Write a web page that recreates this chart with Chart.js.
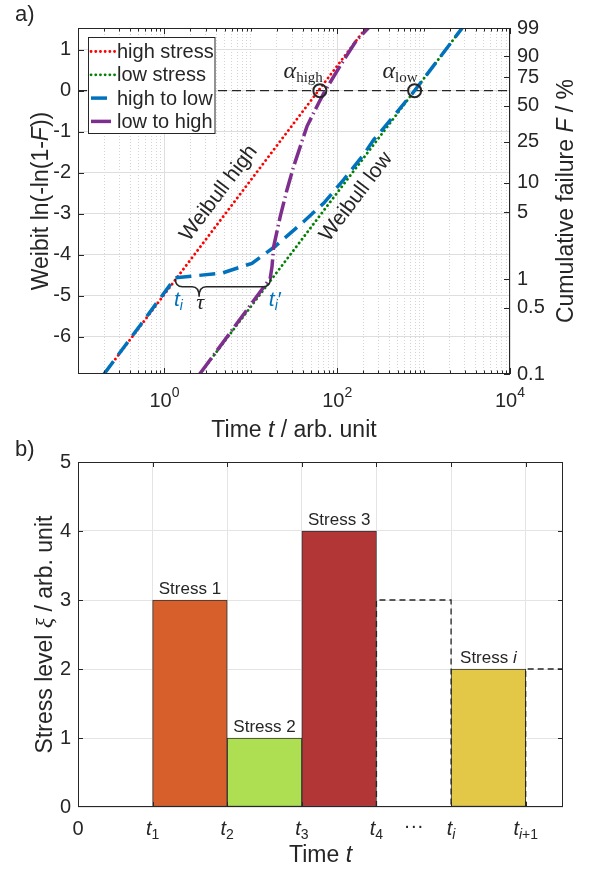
<!DOCTYPE html>
<html>
<head>
<meta charset="utf-8">
<script src="https://cdn.jsdelivr.net/npm/chart.js@4.4.0/dist/chart.umd.min.js"></script>
<style>
    html, body { margin: 0; padding: 0; background: #fff; }
    body { width: 596px; height: 869px; position: relative; overflow: hidden; }
    canvas { position: absolute; left: 0; }
    #weibull { top: 0; width: 596px; height: 445px; }
    #stress { top: 432px; width: 596px; height: 437px; }
</style>
</head>
<body>
<canvas id="weibull" width="596" height="445"></canvas>
<canvas id="stress" width="596" height="437"></canvas>
<script>
const SANS = '"Liberation Sans", Arial, sans-serif';
const SERIF = '"Liberation Serif", "Times New Roman", serif';
const INK = '#262626';

// ---- (a) Weibull plot: time t and Weibit ln(-ln(1-F)) ----
const highStressT = [0.2, 215];
const highStressW = [-6.91, 1.53];
const lowStressT = [2.56, 2800];
const lowStressW = [-6.91, 1.53];
const highToLowT = [0.2, 1.34, 2.1, 4.6, 10.3, 19, 41, 70, 119, 202, 264, 412, 787, 2800];
const highToLowW = [-6.91, -4.56, -4.52, -4.45, -4.21, -3.80, -3.19, -2.74, -2.17, -1.56, -1.20, -0.72, 0, 1.53];
const lowToHighT = [2.56, 16.8, 17.6, 18.4, 21.9, 26.2, 31.3, 44.7, 61, 72.6, 113, 169, 231];
const lowToHighW = [-6.91, -4.57, -4.29, -3.80, -3.07, -2.42, -1.85, -0.87, -0.30, 0, 0.67, 1.24, 1.53];
const alphaT = [63, 787];
const alphaW = [0, 0];
const alphaNames = ['high', 'low'];
const zeroLineT = [0.1, 10000];
const zeroLineW = [0, 0];
const seriesNames = ['high stress', 'low stress', 'high to low', 'low to high'];
const weibitTicks = [-6, -5, -4, -3, -2, -1, 0, 1];
const failureTicks = [99, 90, 75, 50, 25, 10, 5, 1, 0.5, 0.1];
const decadeTicks = [1, 100, 10000];
const decadeExp = ['0', '2', '4'];

// ---- (b) stress profile ----
const stressNames = ['Stress 1', 'Stress 2', 'Stress 3', 'Stress i'];
const stressMidT = [1.5, 2.5, 3.5, 5.5];
const stressLevel = [3, 1, 4, 2];
const stressColors = ['#D75F2B', '#AEDE52', '#B33636', '#E3C746'];
const pendingT = [4, 4, 5, 5];
const pendingLevel = [0, 3, 3, 0];
const nextT = [6, 6, 7];
const nextLevel = [0, 2, 2];
const timeTicks = [0, 1, 2, 3, 4, 5, 6];
const timeTickBase = ['0', 't', 't', 't', 't', 't', 't'];
const timeTickSub = ['', '1', '2', '3', '4', 'i', 'i+1'];
const ellipsisT = 4.5;

const weibit = F => Math.log(-Math.log(1 - F / 100));
const pts = (xs, ys) => xs.map((v, i) => ({ x: v, y: ys[i] }));
const font = (size, style = '', family = SANS) => `${style} ${size}px ${family}`.trim();
const seg = (text, f, dy = 0, color = INK) => ({ text, f, dy, color });

Chart.defaults.font.family = SANS;
Chart.defaults.color = INK;

/**
 * Draw a run of text pieces with their own fonts (italic symbols, sub/superscripts).
 */
const rich = (ctx, parts, x, y, align = 'left', angle = 0, baseline = 'alphabetic') => {
    ctx.save();
    ctx.translate(x, y);
    ctx.rotate(angle);
    ctx.textAlign = 'left';
    ctx.textBaseline = baseline;
    let w = 0;
    parts.forEach(p => { ctx.font = p.f; w += ctx.measureText(p.text).width; });
    let cx = align === 'center' ? -w / 2 : align === 'right' ? -w : 0;
    parts.forEach(p => {
        ctx.font = p.f;
        ctx.fillStyle = p.color;
        ctx.fillText(p.text, cx, p.dy);
        cx += ctx.measureText(p.text).width;
    });
    ctx.restore();
};

const drawFrame = (chart) => {
    const { ctx, chartArea: a } = chart;
    ctx.save();
    ctx.strokeStyle = INK;
    ctx.lineWidth = 1;
    ctx.setLineDash([]);
    ctx.strokeRect(Math.round(a.left) + 0.5, Math.round(a.top) + 0.5,
        Math.round(a.right - a.left) - 1, Math.round(a.bottom - a.top) - 1);
    ctx.restore();
};

/**
 * MATLAB style tick marks pointing into the axes.
 */
const drawInnerTicks = (chart, scale, values, len, sides) => {
    const { ctx, chartArea: a } = chart;
    ctx.save();
    ctx.strokeStyle = INK;
    ctx.lineWidth = 1;
    ctx.beginPath();
    values.forEach(v => {
        const p = Math.round(scale.getPixelForValue(v)) + 0.5;
        if (sides.includes('bottom')) { ctx.moveTo(p, a.bottom); ctx.lineTo(p, a.bottom - len); }
        if (sides.includes('top')) { ctx.moveTo(p, a.top); ctx.lineTo(p, a.top + len); }
        if (sides.includes('left')) { ctx.moveTo(a.left, p); ctx.lineTo(a.left + len, p); }
        if (sides.includes('right')) { ctx.moveTo(a.right, p); ctx.lineTo(a.right - len, p); }
    });
    ctx.stroke();
    ctx.restore();
};

// minor decade ticks for the log axis (2..9 of each decade plus odd decades)
const minorLogTicks = [];
[0.1, 1, 10, 100, 1000].forEach(d => {
    for (let k = 1; k <= 9; k++) {
        const v = +(d * k).toPrecision(3);
        if (!decadeTicks.includes(v)) minorLogTicks.push(v);
    }
});

/**
 * Annotations, legend, labels of the Weibull plot.
 */
const weibullDecor = {
    id: 'weibullDecor',
    afterDatasetsDraw(chart) {
        const { ctx, chartArea: a, scales: { x, y } } = chart;
        const px = t => x.getPixelForValue(t);
        const py = w => y.getPixelForValue(w);

        // rotated line labels
        const slope = (ts, ws) => Math.atan2(py(ws[1]) - py(ws[0]), px(ts[1]) - px(ts[0]));
        rich(ctx, [seg('Weibull high', font(21))], px(4.26), py(-2.5), 'center', slope(highStressT, highStressW), 'middle');
        rich(ctx, [seg('Weibull low', font(21))], px(166), py(-2.59), 'center', slope(lowStressT, lowStressW), 'middle');

        // alpha labels over the circles
        alphaT.forEach((t, i) => {
            rich(ctx, [seg('α', font(24, 'italic', SERIF)), seg(alphaNames[i], font(15, '', SERIF), 4)],
                px(t) + 3, py(alphaW[i]) - 13, 'right');
        });

        // brace between t_i and t_i'
        const bx1 = px(highToLowT[1]);
        const bx2 = px(lowToHighT[1]);
        const by0 = py(highToLowW[1]);
        const by = by0 + 9;
        const tipX = bx1 + 0.25 * (bx2 - bx1);
        ctx.save();
        ctx.strokeStyle = INK;
        ctx.lineWidth = 1.5;
        ctx.setLineDash([]);
        ctx.beginPath();
        ctx.moveTo(bx1, by0 + 1);
        ctx.quadraticCurveTo(bx1, by, bx1 + 7, by);
        ctx.lineTo(tipX - 7, by);
        ctx.quadraticCurveTo(tipX, by, tipX, by + 10);
        ctx.quadraticCurveTo(tipX, by, tipX + 7, by);
        ctx.lineTo(bx2 - 7, by);
        ctx.quadraticCurveTo(bx2, by, bx2, by0 + 1);
        ctx.stroke();
        ctx.restore();

        const blue = '#0072BD';
        rich(ctx, [seg('t', font(21, 'italic'), 0, blue), seg('i', font(14, 'italic'), 4, blue)], bx1 + 3, by0 + 28, 'center');
        rich(ctx, [seg('τ', font(22, 'italic', SERIF))], tipX + 1, by0 + 31, 'center');
        rich(ctx, [seg('t', font(21, 'italic'), 0, blue), seg('i', font(14, 'italic'), 4, blue), seg('′', font(21), 0, blue)],
            bx2 + 5, by0 + 28, 'center');

        // legend box
        const lx = a.left + 10.5;
        const ly = a.top + 9.5;
        ctx.save();
        ctx.fillStyle = '#fff';
        ctx.fillRect(lx, ly, 126.5, 96);
        ctx.strokeStyle = INK;
        ctx.lineWidth = 1;
        ctx.strokeRect(lx, ly, 126.5, 96);
        chart.data.datasets.slice(0, 4).forEach((ds, i) => {
            const yy = ly + 14 + i * 23.3;
            ctx.strokeStyle = ds.borderColor;
            ctx.lineWidth = ds.borderWidth;
            ctx.lineCap = ds.borderCapStyle || 'butt';
            ctx.setLineDash(ds.borderDash);
            ctx.beginPath();
            ctx.moveTo(lx + 2.5, yy);
            ctx.lineTo(lx + 26.5, yy);
            ctx.stroke();
            ctx.fillStyle = INK;
            ctx.font = font(20);
            ctx.textBaseline = 'middle';
            ctx.fillText(ds.label, lx + 28.5, yy + 1);
        });
        ctx.restore();
    },
    afterDraw(chart) {
        const { ctx, chartArea: a, scales: { x, xm, y, y2 } } = chart;
        drawFrame(chart);
        drawInnerTicks(chart, x, decadeTicks, 6, ['bottom', 'top']);
        drawInnerTicks(chart, xm, minorLogTicks, 3.5, ['bottom', 'top']);
        drawInnerTicks(chart, y, weibitTicks, 6, ['left']);
        drawInnerTicks(chart, y2, failureTicks.map(weibit), 6, ['right']);

        // 10^n tick labels
        decadeTicks.forEach((t, i) => {
            rich(ctx, [seg('10', font(20)), seg(decadeExp[i], font(14), -10)], x.getPixelForValue(t), 407, 'center');
        });

        const midY = (a.top + a.bottom) / 2;
        rich(ctx, [seg('Time ', font(23)), seg('t', font(23, 'italic')), seg(' / arb. unit', font(23))],
            (a.left + a.right) / 2, 437, 'center');
        rich(ctx, [seg('Weibit ln(-ln(1-', font(23)), seg('F', font(23, 'italic')), seg('))', font(23))],
            48, midY, 'center', -Math.PI / 2);
        rich(ctx, [seg('Cumulative failure ', font(23)), seg('F', font(23, 'italic')), seg(' / %', font(23))],
            573, midY, 'center', -Math.PI / 2);
        rich(ctx, [seg('a)', font(22))], 15, 21);
    }
};

new Chart(document.getElementById('weibull'), {
    type: 'line',
    data: {
        datasets: [
            { label: seriesNames[0], data: pts(highStressT, highStressW), borderColor: '#FF0000', borderWidth: 2.8, borderCapStyle: 'round', borderDash: [0.1, 4.6], clip: 0, order: 4 },
            { label: seriesNames[1], data: pts(lowStressT, lowStressW), borderColor: '#008000', borderWidth: 2.8, borderCapStyle: 'round', borderDash: [0.1, 4.6], clip: 0, order: 3 },
            { label: seriesNames[2], data: pts(highToLowT, highToLowW), borderColor: '#0072BD', borderWidth: 3.5, borderDash: [16, 8], clip: 0, order: 2 },
            { label: seriesNames[3], data: pts(lowToHighT, lowToHighW), borderColor: '#7E2F8E', borderWidth: 3.5, borderDash: [20, 4, 1.5, 4], clip: 0, order: 1 },
            {
                label: 'alpha', data: pts(alphaT, alphaW), showLine: false, pointRadius: 6.5,
                pointBorderWidth: 2, pointBorderColor: INK, pointBackgroundColor: 'rgba(0,0,0,0)', order: 0
            },
            { label: 'F = 63.2 %', data: pts(zeroLineT, zeroLineW), borderColor: INK, borderWidth: 1.3, borderDash: [9, 5], clip: 0, order: 5 },
        ],
    },
    options: {
        responsive: false,
        animation: false,
        devicePixelRatio: 1,
        layout: { padding: { top: 28, left: 0, right: 0, bottom: 0 } },
        plugins: { legend: { display: false }, tooltip: { enabled: false } },
        elements: { point: { radius: 0, hoverRadius: 0 }, line: { tension: 0, fill: false } },
        scales: {
            x: {
                type: 'logarithmic', position: 'bottom', min: 0.1, max: 10000,
                afterBuildTicks: s => { s.ticks = decadeTicks.map(v => ({ value: v })); },
                ticks: { display: false },
                grid: { color: '#dedede', lineWidth: 1, drawTicks: false },
                border: { display: false },
                afterFit: s => { s.height = 71; },
            },
            xm: {
                type: 'logarithmic', axis: 'x', position: 'bottom', min: 0.1, max: 10000,
                afterBuildTicks: s => { s.ticks = minorLogTicks.map(v => ({ value: v })); },
                ticks: { display: false },
                grid: { color: '#d4d4d4', lineWidth: 1, drawTicks: false },
                border: { display: false, dash: [1, 2] },
                afterFit: s => { s.height = 0; },
            },
            y: {
                type: 'linear', position: 'left', min: weibit(0.1), max: weibit(99),
                afterBuildTicks: s => { s.ticks = weibitTicks.map(v => ({ value: v })); },
                ticks: { font: { size: 20 }, color: INK, padding: 7, callback: v => String(v) },
                grid: { color: '#dedede', lineWidth: 1, drawTicks: false },
                border: { display: false },
                afterFit: s => { s.width = 78; },
            },
            y2: {
                type: 'linear', position: 'right', min: weibit(0.1), max: weibit(99),
                afterBuildTicks: s => { s.ticks = failureTicks.map(F => ({ value: weibit(F) })); },
                ticks: { font: { size: 20 }, color: INK, padding: 7, autoSkip: false, callback: (v, i) => String(failureTicks[i]) },
                grid: { drawOnChartArea: false, drawTicks: false },
                border: { display: false },
                afterFit: s => { s.width = 86; },
            },
        },
    },
    plugins: [weibullDecor],
});

/**
 * Bar captions, time tick labels and titles of the stress profile.
 */
const stressDecor = {
    id: 'stressDecor',
    afterDatasetsDraw(chart) {
        const { ctx } = chart;
        chart.getDatasetMeta(2).data.forEach((bar, i) => {
            const words = stressNames[i].split(' ');
            const idx = words.pop();
            const idxFont = idx === 'i' ? font(17, 'italic') : font(17);
            rich(ctx, [seg(words.join(' ') + ' ', font(17)), seg(idx, idxFont)], bar.x, bar.y - 6, 'center');
        });
    },
    afterDraw(chart) {
        const { ctx, chartArea: a, scales: { x, y } } = chart;
        drawFrame(chart);
        drawInnerTicks(chart, x, timeTicks.slice(1), 5, ['bottom', 'top']);
        drawInnerTicks(chart, y, [1, 2, 3, 4], 5, ['left', 'right']);

        timeTicks.forEach((t, i) => {
            const parts = timeTickBase[i] === 't' ? [seg('t', font(20, 'italic'))] : [seg(timeTickBase[i], font(20))];
            timeTickSub[i].split(/(\+\d+)/).filter(Boolean).forEach(s => {
                parts.push(seg(s, font(14, /^\d/.test(s) || s[0] === '+' ? '' : 'italic'), 4));
            });
            rich(ctx, parts, x.getPixelForValue(t), 403, 'center');
        });
        rich(ctx, [seg('···', font(20))], x.getPixelForValue(ellipsisT), 400, 'center');

        rich(ctx, [seg('Time ', font(23)), seg('t', font(23, 'italic'))], (a.left + a.right) / 2, 430, 'center');
        rich(ctx, [seg('Stress level ', font(23)), seg('ξ', font(24, 'italic', SERIF)), seg(' / arb. unit', font(23))],
            52, (a.top + a.bottom) / 2, 'center', -Math.PI / 2);
        rich(ctx, [seg('b)', font(22))], 15, 24);
    }
};

new Chart(document.getElementById('stress'), {
    type: 'bar',
    data: {
        datasets: [
            { type: 'line', data: pts(pendingT, pendingLevel), borderColor: INK, borderWidth: 1.3, borderDash: [6, 4], pointRadius: 0, order: 0 },
            { type: 'line', data: pts(nextT, nextLevel), borderColor: INK, borderWidth: 1.3, borderDash: [6, 4], pointRadius: 0, order: 0 },
            {
                label: 'stress level', data: pts(stressMidT, stressLevel),
                backgroundColor: stressColors, borderColor: '#333333', borderWidth: 1, borderSkipped: false,
                barPercentage: 1, categoryPercentage: 1, order: 1
            },
        ],
    },
    options: {
        responsive: false,
        animation: false,
        devicePixelRatio: 1,
        layout: { padding: { top: 30, left: 0, right: 33, bottom: 0 } },
        plugins: { legend: { display: false }, tooltip: { enabled: false } },
        elements: { point: { radius: 0, hoverRadius: 0 }, line: { tension: 0, fill: false } },
        scales: {
            x: {
                type: 'linear', min: 0, max: 6.5, offset: false,
                afterBuildTicks: s => { s.ticks = timeTicks.map(v => ({ value: v })); },
                ticks: { display: false },
                grid: { offset: false, color: '#e4e4e4', drawTicks: false },
                border: { display: false },
                afterFit: s => { s.height = 62; },
            },
            y: {
                type: 'linear', min: 0, max: 5,
                ticks: { stepSize: 1, font: { size: 20 }, color: INK, padding: 7 },
                grid: { color: '#e4e4e4', drawTicks: false },
                border: { display: false },
                afterFit: s => { s.width = 78; },
            },
        },
    },
    plugins: [stressDecor],
});
</script>
</body>
</html>
